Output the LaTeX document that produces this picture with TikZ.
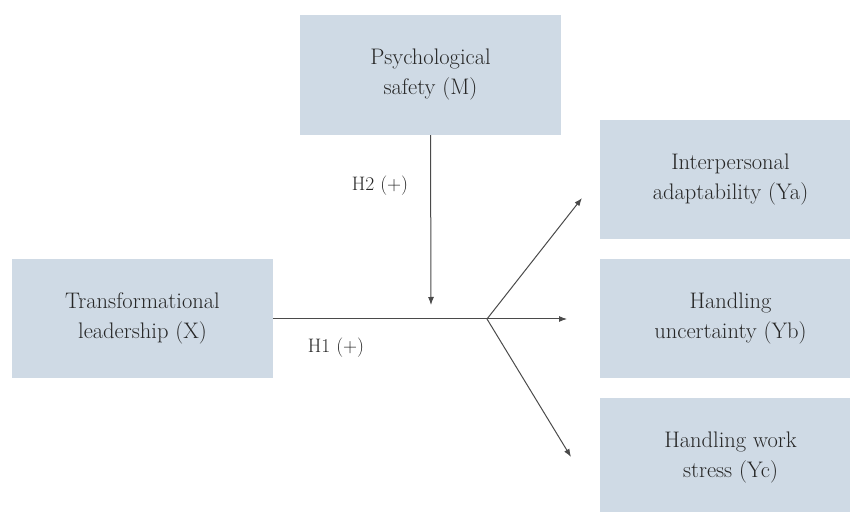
\documentclass[tikz,border=0pt]{standalone}
\usetikzlibrary{arrows.meta}
\definecolor{boxfill}{HTML}{CFDAE5}
\definecolor{inkgray}{HTML}{262626}
\definecolor{linegray}{HTML}{4A4A4A}

\begin{document}
\begin{tikzpicture}[x=1pt, y=1pt, node distance=588pt, auto,
    every node/.style={text=inkgray, font=\fontsize{22.5}{30}\selectfont}]

    \useasboundingbox (0,0) rectangle (850,511);

    \node (X) [fill=boxfill, rectangle, minimum width=261pt, minimum height=119pt, align=center] at (142.5,192.5) {Transformational\\leadership (X)};
    \node (Yb) [fill=boxfill, rectangle, minimum width=261pt, minimum height=119pt, align=center, right of=X] {Handling\\uncertainty (Yb)};
    \node (Ya) [fill=boxfill, rectangle, minimum width=261pt, minimum height=119pt, align=center, above of=Yb, node distance=138.5pt] {Interpersonal\\adaptability (Ya)};
    \node (Yc) [fill=boxfill, rectangle, minimum width=261pt, minimum height=119pt, align=center, below of=Yb, node distance=139.5pt] {Handling work\\stress (Yc)};

    \node (M) [fill=boxfill, rectangle, minimum width=261pt, minimum height=120pt, align=center] at (430.5,436) {Psychological\\safety (M)};

    \coordinate (J) at (487,192);
    \coordinate (Mtip) at (431,206);
    \coordinate (Yatip) at (582,313);
    \coordinate (Ybtip) at (567,192);
    \coordinate (Yctip) at (571,54);

    \node (H2) [font=\fontsize{19.5}{24}\selectfont] at (380,325) {H2 (+)};
    \node (H1) [font=\fontsize{19.5}{24}\selectfont] at (336,163) {H1 (+)};

    \draw[linegray, line width=1pt] (X.east |- J) -- (J);
    \draw[linegray, line width=1pt, -{Latex[length=8pt,width=6pt]}] (J) -- (Ybtip);
    \draw[linegray, line width=1pt, -{Latex[length=8pt,width=6pt]}] (J) -- (Yatip);
    \draw[linegray, line width=1pt, -{Latex[length=8pt,width=6pt]}] (J) -- (Yctip);
    \draw[linegray, line width=1pt, -{Latex[length=8pt,width=6pt]}] (M.south) -- (Mtip);

\end{tikzpicture}
\end{document}
